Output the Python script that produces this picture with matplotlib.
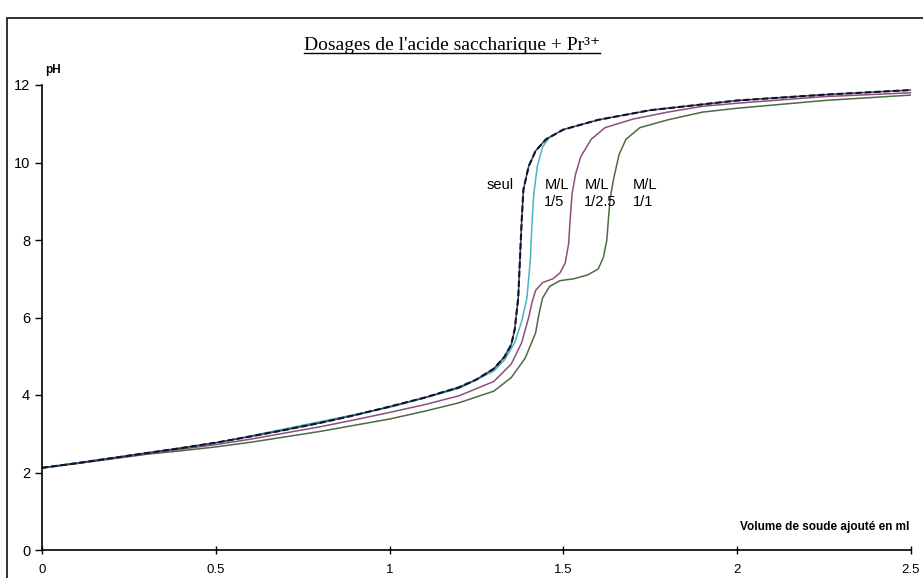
import matplotlib
matplotlib.use("Agg")
import matplotlib.pyplot as plt
from matplotlib.lines import Line2D
from matplotlib.patches import Rectangle

# Volume de soude (ml) / pH pour chaque dosage
vol_seul = [0, 0.1, 0.2, 0.3, 0.4, 0.5, 0.6, 0.7, 0.8, 0.9, 1.0, 1.1, 1.2, 1.25, 1.3,
            1.33, 1.35, 1.36, 1.37, 1.375, 1.38, 1.385, 1.40, 1.42, 1.45, 1.5, 1.6,
            1.75, 2.0, 2.25, 2.5]
ph_seul = [2.12, 2.24, 2.37, 2.5, 2.63, 2.77, 2.93, 3.1, 3.28, 3.48, 3.7, 3.93, 4.2, 4.4, 4.68,
           4.98, 5.3, 5.7, 6.5, 7.5, 8.5, 9.3, 9.9, 10.3, 10.6, 10.85, 11.1,
           11.35, 11.6, 11.75, 11.87]

vol_15 = [0, 0.5, 1.0, 1.2, 1.3, 1.33, 1.36, 1.38, 1.395, 1.405, 1.41, 1.415, 1.425, 1.44, 1.46]
ph_15 = [2.12, 2.76, 3.68, 4.17, 4.62, 4.9, 5.35, 5.9, 6.5, 7.5, 8.5, 9.2, 9.9, 10.4, 10.65]

vol_125 = [0, 0.1, 0.2, 0.3, 0.4, 0.5, 0.6, 0.7, 0.8, 0.9, 1.0, 1.1, 1.2, 1.3, 1.35, 1.38,
           1.40, 1.41, 1.42, 1.44, 1.47, 1.49, 1.505, 1.515, 1.52, 1.525, 1.535, 1.55, 1.58,
           1.62, 1.7, 1.8, 1.9, 2.0, 2.25, 2.5]
ph_125 = [2.12, 2.24, 2.36, 2.48, 2.6, 2.72, 2.86, 3.02, 3.18, 3.36, 3.55, 3.75, 3.98, 4.35, 4.8, 5.35,
          6.0, 6.4, 6.7, 6.9, 7.0, 7.15, 7.4, 7.9, 8.6, 9.2, 9.7, 10.15, 10.6,
          10.9, 11.12, 11.3, 11.45, 11.53, 11.7, 11.8]

vol_11 = [0, 0.1, 0.2, 0.3, 0.4, 0.5, 0.6, 0.7, 0.8, 0.9, 1.0, 1.1, 1.2, 1.3, 1.35, 1.39,
          1.42, 1.43, 1.44, 1.46, 1.49, 1.53, 1.57, 1.6, 1.615, 1.625, 1.63, 1.635, 1.645,
          1.66, 1.68, 1.72, 1.8, 1.9, 2.0, 2.25, 2.5]
ph_11 = [2.12, 2.23, 2.35, 2.47, 2.56, 2.66, 2.78, 2.92, 3.06, 3.22, 3.38, 3.58, 3.8, 4.1, 4.45, 4.95,
         5.6, 6.1, 6.5, 6.8, 6.95, 7.0, 7.1, 7.25, 7.55, 8.0, 8.6, 9.1, 9.6,
         10.2, 10.6, 10.9, 11.1, 11.3, 11.4, 11.6, 11.74]

x_ticks = [0, 0.5, 1, 1.5, 2, 2.5]
x_labels = ["0", "0.5", "1", "1.5", "2", "2.5"]
y_ticks = [0, 2, 4, 6, 8, 10, 12]

narrow = ["Liberation Sans Narrow", "Liberation Sans", "DejaVu Sans"]

fig = plt.figure(figsize=(9.23, 5.78), dpi=100)
ax = fig.add_axes([42 / 923, 1 - 550 / 578, (911 - 42) / 923, (550 - 85) / 578])

ax.plot(vol_11, ph_11, color="#4c6a44", lw=1.1)
ax.plot(vol_125, ph_125, color="#8c4f7c", lw=1.1)
ax.plot(vol_15, ph_15, color="#48b4c8", lw=1.1)
ax.plot(vol_seul, ph_seul, color="#34406a", lw=1.1)
ax.plot(vol_seul, ph_seul, color="#111522", lw=1.5, ls=(0, (3, 1.5)))

ax.set_xlim(0, 2.5)
ax.set_ylim(0, 12)
ax.set_xticks(x_ticks)
ax.set_xticklabels(x_labels, family=narrow, fontsize=9.5)
ax.set_yticks(y_ticks)
ax.set_yticklabels([str(t) for t in y_ticks], family=narrow, fontsize=10.5)
ax.tick_params(axis="y", direction="out", length=5, width=1)
ax.tick_params(axis="x", direction="inout", length=6, width=1, pad=7)
for s in ["top", "right"]:
    ax.spines[s].set_visible(False)
for s in ["left", "bottom"]:
    ax.spines[s].set_linewidth(1.2)

# étiquettes des courbes
lab = dict(family=narrow, fontsize=10.5, ha="left", va="center", linespacing=1.35)
ax.text(1.357, 9.42, "seul", ha="right", va="center", family=narrow, fontsize=10.5)
ax.text(1.445, 9.2, "M/L\n1/5", **lab)
ax.text(1.56, 9.2, "M/L\n1/2.5", **lab)
ax.text(1.70, 9.2, "M/L\n1/1", **lab)

fig.text(45 / 923, 1 - 70 / 578, "pH", family=narrow, fontsize=8.5, weight="bold", va="center")
fig.text(909 / 923, 1 - 527 / 578, "Volume de soude ajouté en ml", family=narrow,
         fontsize=8.5, weight="bold", ha="right", va="center")

title = fig.text(452 / 923, 1 - 45 / 578, "Dosages de l'acide saccharique + Pr³⁺",
                 family=["Liberation Serif", "DejaVu Serif"], fontsize=14,
                 ha="center", va="center")
fig.canvas.draw()
bb = title.get_window_extent().transformed(fig.transFigure.inverted())
fig.add_artist(Line2D([bb.x0, bb.x1], [bb.y0 + 0.001, bb.y0 + 0.001],
                      transform=fig.transFigure, color="black", lw=1))

# cadre de la zone du graphique
fig.add_artist(Rectangle((7 / 923, -0.1), 1.2, 1.1 - 18 / 578, transform=fig.transFigure,
                         fill=False, edgecolor="#222222", lw=1.3))

fig.savefig("out.png", dpi=100)
